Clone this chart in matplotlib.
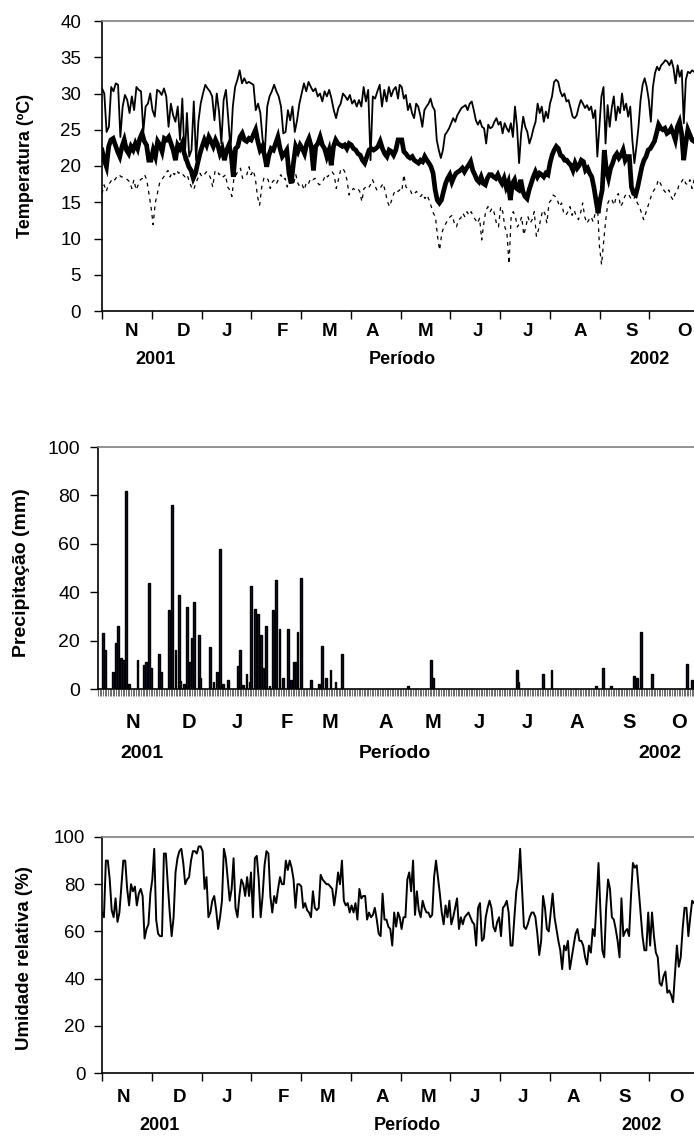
import numpy as np
import matplotlib.pyplot as plt

plt.rcParams['font.family'] = ['Liberation Sans', 'DejaVu Sans']

# ---- data ----
months = ['N', 'D', 'J', 'F', 'M', 'A', 'M', 'J', 'J', 'A', 'S', 'O']

# temperature (ºC), Nov 2001 - Apr 2002 and Apr - Oct 2002
tmax_a = [30.7, 30.0, 24.7, 25.4, 30.9, 30.3, 31.4, 31.2, 24.0, 28.2, 29.8, 29.1, 27.3, 29.6, 27.7, 30.9,
          30.5, 30.3, 24.7, 28.2, 28.6, 30.0, 27.7, 26.8, 30.5, 30.3, 29.8, 30.7, 29.6, 25.4, 28.6, 27.0,
          26.1, 28.2, 23.6, 29.3, 20.8, 27.3, 21.3, 22.2, 28.9, 20.8, 26.1, 28.6, 30.0, 31.2, 30.7, 30.3,
          29.6, 26.3, 30.0, 27.5, 23.1, 29.1, 30.5, 26.6, 22.2, 28.2, 30.9, 31.9, 33.2, 31.4, 32.1, 31.4,
          31.6, 31.4, 31.2, 27.7, 28.6, 27.3, 23.6, 22.2, 28.2, 29.6, 30.3, 31.2, 30.3, 29.6, 28.2, 24.5,
          24.7, 27.7, 26.3, 28.2, 24.7, 26.3, 28.6, 30.0, 31.4, 30.3, 31.6, 30.9, 30.3, 30.7, 29.6, 30.0,
          28.9, 30.3, 29.6, 30.5, 29.3, 27.7, 26.6, 28.0, 28.6, 30.0, 29.6, 29.1, 29.8, 28.6, 29.1, 28.2,
          29.1, 28.2, 30.9, 28.9, 30.5, 20.8, 29.6, 29.3, 30.3, 31.2, 28.2, 30.5, 28.9, 30.9, 29.6, 30.5,
          30.9, 29.3]
tmax_b = [31.2, 30.9, 29.3, 29.8, 27.7, 28.6, 27.3, 26.6, 28.6, 28.2, 27.0, 25.4, 27.7, 28.2, 28.6, 29.3,
          28.2, 27.7, 23.6, 22.2, 21.1, 22.2, 24.3, 24.7, 25.2, 25.9, 26.6, 26.1, 27.0, 27.5, 28.0, 28.2,
          28.4, 27.7, 28.6, 28.9, 27.7, 26.3, 25.7, 26.3, 25.4, 25.2, 23.1, 25.7, 25.2, 25.4, 26.1, 26.6,
          25.7, 26.1, 24.5, 25.9, 25.2, 24.7, 25.9, 24.0, 28.2, 25.4, 20.4, 24.5, 26.8, 25.4, 24.7, 23.1,
          24.0, 25.2, 26.1, 28.6, 27.3, 28.2, 26.1, 27.5, 26.6, 28.6, 29.6, 31.6, 31.9, 31.6, 30.3, 29.6,
          30.0, 28.9, 29.1, 28.0, 26.8, 26.6, 27.0, 28.2, 29.1, 28.6, 28.0, 28.4, 27.7, 28.2, 26.6, 27.7,
          21.3, 25.4, 29.6, 30.9, 23.1, 28.4, 25.4, 28.0, 29.6, 26.3, 28.2, 27.3, 30.0, 27.7, 28.6, 26.8,
          28.2, 23.6, 20.4, 22.7, 25.4, 29.1, 31.2, 32.1, 30.9, 29.1, 26.1, 30.9, 32.8, 33.7, 33.2, 33.9,
          34.2, 34.6, 34.4, 33.9, 34.6, 33.5, 31.4, 33.9, 32.3, 33.2, 25.9, 31.9, 33.0, 32.8, 33.2, 33.0]

tmed_a = [22.2, 20.8, 19.9, 22.7, 23.6, 23.8, 22.9, 22.0, 21.3, 22.7, 23.6, 22.2, 21.7, 22.7, 22.2, 23.1,
          22.4, 23.8, 24.5, 23.4, 22.9, 20.8, 20.8, 22.2, 21.3, 23.4, 22.9, 22.0, 23.8, 23.6, 24.0, 23.1,
          22.2, 20.8, 22.9, 22.4, 23.1, 21.7, 20.8, 19.9, 19.4, 18.3, 19.0, 20.4, 21.7, 22.7, 23.6, 22.9,
          24.0, 23.4, 22.7, 23.6, 22.9, 21.7, 22.4, 20.8, 22.2, 22.9, 21.7, 18.5, 22.4, 22.7, 24.0, 24.5,
          23.6, 23.4, 23.8, 23.6, 24.3, 25.0, 23.4, 22.2, 22.7, 21.5, 19.9, 21.5, 22.4, 22.2, 23.1, 24.0,
          22.4, 21.3, 21.7, 22.2, 19.0, 17.6, 20.4, 22.7, 22.0, 22.9, 22.4, 21.7, 23.1, 23.8, 22.7, 19.4,
          22.7, 23.1, 24.0, 22.9, 22.4, 21.3, 22.2, 20.1, 22.7, 23.6, 23.1, 22.9, 22.7, 22.9, 22.4, 23.1,
          22.9, 22.4, 22.2, 21.7, 21.5, 20.8, 20.4, 21.3, 22.2, 22.4, 22.2, 22.4, 22.7, 23.4, 22.4, 21.7,
          21.3, 22.2, 22.0, 21.5, 22.2, 23.6]
tmed_b = [23.6, 23.6, 22.0, 21.7, 21.3, 21.1, 21.3, 20.8, 20.6, 20.4, 20.8, 20.6, 21.3, 20.8, 20.4, 19.9,
          19.0, 16.7, 15.3, 14.9, 15.3, 16.5, 17.6, 18.3, 18.8, 17.8, 18.5, 19.0, 19.2, 19.4, 19.7, 19.2,
          19.7, 20.1, 20.6, 19.4, 18.8, 18.1, 17.8, 18.5, 17.6, 17.4, 18.3, 18.8, 18.8, 18.5, 18.3, 18.8,
          18.1, 17.6, 18.3, 17.1, 17.8, 15.3, 17.6, 18.1, 16.9, 16.7, 18.1, 16.5, 15.8, 15.5, 16.7, 17.6,
          18.5, 19.2, 18.5, 19.0, 18.8, 18.5, 19.0, 18.8, 20.4, 21.5, 22.2, 22.7, 22.4, 21.5, 21.3, 20.8,
          20.8, 20.4, 20.1, 19.4, 20.4, 19.7, 20.1, 20.8, 20.6, 19.4, 19.7, 19.0, 18.5, 17.1, 15.3, 13.5,
          15.3, 16.7, 22.2, 19.4, 18.3, 19.7, 20.4, 21.3, 21.7, 21.1, 21.5, 22.2, 20.8, 21.3, 21.3, 17.1,
          16.2, 16.0, 17.1, 18.5, 19.9, 20.8, 21.3, 22.2, 22.4, 22.9, 23.4, 24.5, 25.7, 25.2, 25.0, 25.2,
          24.5, 24.7, 25.2, 24.5, 23.6, 25.4, 26.1, 24.5, 20.8, 23.1, 25.0, 24.3, 23.6, 23.4]

tmin_a = [16.2, 17.4, 16.5, 17.4, 17.8, 18.3, 18.1, 18.5, 18.8, 18.5, 18.5, 18.3, 18.1, 17.8, 16.9, 18.1,
          16.7, 17.4, 18.1, 18.3, 18.8, 18.1, 16.2, 14.4, 11.9, 14.9, 16.2, 17.6, 18.1, 18.5, 19.0, 19.4,
          18.5, 19.2, 18.8, 19.4, 19.0, 19.2, 18.8, 18.5, 18.8, 17.8, 17.1, 16.7, 17.6, 18.3, 19.0, 18.5,
          18.8, 19.2, 19.0, 18.3, 17.1, 19.2, 19.4, 18.8, 19.0, 18.5, 18.8, 17.1, 16.7, 15.8, 18.5, 18.8,
          19.4, 19.7, 18.3, 18.5, 18.8, 19.9, 18.8, 19.4, 18.3, 15.8, 14.6, 17.1, 18.3, 18.5, 18.1, 16.9,
          17.8, 18.1, 17.6, 18.3, 18.8, 18.1, 18.3, 17.1, 18.1, 17.8, 17.6, 18.8, 17.6, 17.1, 17.4, 16.7,
          17.8, 17.6, 18.3, 18.1, 18.3, 17.8, 17.4, 17.6, 18.1, 18.8, 18.5, 19.0, 19.2, 18.8, 16.9, 18.1,
          19.4, 19.7, 19.2, 18.1, 16.0, 16.5, 16.9, 16.7, 16.9, 16.5, 15.1, 16.9, 17.1, 16.9, 17.4, 18.1,
          17.4, 16.7, 17.1, 17.1, 17.6, 16.5, 15.1, 14.4, 15.3, 16.2, 16.7, 16.5]
tmin_b = [16.7, 16.5, 18.8, 17.1, 16.9, 16.7, 16.0, 16.2, 16.5, 16.0, 15.8, 16.2, 15.5, 16.0, 15.3, 14.4,
          13.5, 13.0, 10.3, 8.4, 10.7, 11.6, 12.1, 12.6, 13.0, 13.2, 12.1, 11.6, 12.6, 12.8, 13.5, 13.0,
          13.7, 13.2, 13.7, 13.0, 12.6, 12.1, 12.8, 9.8, 12.1, 13.9, 14.4, 13.7, 14.2, 13.5, 12.1, 11.6,
          14.4, 13.7, 11.6, 10.7, 6.5, 13.0, 13.7, 13.0, 11.6, 12.1, 13.0, 10.5, 11.6, 13.0, 12.1, 12.6,
          13.7, 10.3, 11.2, 12.6, 13.9, 13.5, 12.1, 14.9, 15.3, 16.0, 15.8, 15.3, 14.4, 14.9, 13.5, 13.2,
          13.7, 14.4, 13.2, 13.9, 13.0, 12.6, 13.5, 14.9, 13.0, 12.1, 12.6, 13.0, 12.3, 13.5, 14.9, 8.9,
          6.4, 9.6, 12.6, 14.9, 15.5, 15.3, 14.6, 15.8, 16.2, 14.4, 14.9, 15.8, 16.2, 16.0, 15.5, 15.3,
          15.8, 14.9, 14.4, 13.5, 12.6, 13.5, 14.4, 15.3, 16.2, 16.7, 17.1, 18.1, 17.6, 16.9, 16.5, 16.2,
          16.7, 15.8, 15.3, 16.2, 16.5, 17.6, 17.8, 18.3, 17.6, 17.4, 18.1, 16.9, 18.1]

# precipitation (mm): day of period and amount, all other days are 0
rain_day = [3, 4, 9, 11, 12, 14, 15, 17, 19, 24, 28, 29, 31, 32, 37, 38, 43, 45, 47, 49,
            50, 52, 54, 56, 57, 58, 61, 62, 68, 70, 72, 74, 76, 79, 85, 86, 88, 90, 92, 93,
            95, 97, 99, 100, 102, 104, 106, 108, 110, 112, 115, 117, 119, 120, 121, 123, 129, 134, 136, 138,
            141, 144, 148, 188, 202, 203, 254, 255, 270, 275, 302, 306, 311, 325, 327, 329, 336, 357, 360]
rain_mm = [23, 16, 7, 19, 26, 13, 12, 82, 2, 12, 10, 11, 44, 8.5, 14.5, 7, 32.5, 76, 16, 39,
           3.5, 2, 34, 11, 21, 36, 22.5, 4.5, 17.5, 3, 7, 58, 2, 3.9, 9.5, 16, 1.5, 6, 2.7, 42.5,
           33, 31, 22.5, 8.5, 26, 1.4, 32.5, 45, 25, 4.5, 25, 3.7, 11, 11, 23.5, 45.8, 3.7, 2, 17.6, 4.5,
           7.8, 2.9, 14.4, 1.4, 12.1, 4.7, 7.9, 2.8, 6.2, 7.9, 1.4, 8.7, 1.4, 5.4, 4.5, 23.6, 6.2, 10.3, 3.7]

# relative humidity (%)
rh_a = [68, 66, 90, 90, 82, 69, 66, 74, 64, 68, 79, 90, 90, 78, 71, 80, 77, 79, 71, 76,
        78, 75, 57, 61, 63, 76, 82, 95, 65, 59, 58, 58, 93, 93, 80, 68, 58, 66, 85, 91,
        94, 95, 89, 80, 82, 83, 90, 94, 94, 93, 96, 96, 94, 78, 83, 66, 68, 73, 75, 69,
        61, 66, 73, 95, 91, 82, 73, 78, 91, 70, 66, 75, 82, 80, 75, 83, 75, 85, 66, 91,
        92, 82, 66, 75, 88, 94, 93, 75, 68, 75, 72, 78, 83, 80, 80, 90, 86, 90, 87, 82,
        70, 80, 80, 79, 70, 72, 69, 68, 66, 77, 70, 69, 70, 84, 82, 81, 80, 80, 79, 78,
        71, 77, 85, 80, 90, 73, 71, 72, 68, 71, 68, 72, 65, 78, 74, 75, 75, 65, 68, 66,
        67, 70, 65, 59, 58, 76, 65, 65, 62, 61, 54, 68, 62, 68]
rh_b = [66, 61, 66, 66, 82, 85, 77, 90, 67, 77, 69, 66, 73, 70, 68, 68, 66, 67, 83, 90,
        83, 76, 68, 63, 71, 66, 73, 63, 66, 70, 74, 61, 66, 63, 66, 67, 68, 66, 64, 63,
        54, 70, 72, 56, 57, 66, 70, 73, 70, 62, 60, 64, 66, 58, 70, 71, 73, 68, 54, 54,
        66, 77, 82, 95, 78, 62, 61, 63, 66, 68, 68, 66, 59, 50, 56, 75, 70, 61, 60, 68,
        76, 66, 61, 56, 52, 44, 54, 52, 56, 44, 49, 54, 59, 61, 56, 56, 54, 49, 46, 54,
        51, 61, 58, 73, 89, 69, 52, 49, 70, 82, 78, 66, 65, 61, 56, 49, 74, 58, 60, 61,
        58, 75, 89, 87, 88, 78, 68, 58, 52, 52, 68, 54, 68, 58, 51, 49, 38, 37, 41, 43,
        34, 35, 33, 30, 42, 54, 45, 49, 61, 70, 70, 58, 66, 73, 72]

W, H = 694, 1137
fig = plt.figure(figsize=(W / 100, H / 100), dpi=100)


def box(l, t, r, b):
    return [l / W, 1 - b / H, (r - l) / W, (b - t) / H]


def px(x, y):
    return x / W, 1 - y / H


def frame(ax):
    ax.spines['right'].set_visible(False)
    ax.spines['top'].set_color('#7f7f7f')
    ax.spines['top'].set_linewidth(1.2)
    ax.spines['left'].set_linewidth(1.2)
    ax.spines['bottom'].set_linewidth(1.2)


def xlabels(month_x, month_y, year_y, x2001, xper, x2002, size):
    for m, x in zip(months, month_x):
        fig.text(*px(x, month_y), m, ha='center', va='center', fontsize=size, fontweight='bold')
    fig.text(*px(x2001, year_y), '2001', ha='center', va='center', fontsize=size - 0.5, fontweight='bold')
    fig.text(*px(xper, year_y), 'Período', ha='center', va='center', fontsize=size - 0.5, fontweight='bold')
    fig.text(*px(x2002, year_y), '2002', ha='center', va='center', fontsize=size - 0.5, fontweight='bold')


month_edges = np.arange(0, 13) * 365 / 12

# ---- panel 1: temperature ----
ax1 = fig.add_axes(box(102, 21, 699, 311))
frame(ax1)
d_a = np.linspace(0, 181, len(tmax_a))
d_b = np.linspace(182, 362, len(tmax_b))
ax1.plot(np.r_[d_a, d_b], tmax_a + tmax_b, color='black', lw=1.3)
d_a = np.linspace(0, 181, len(tmed_a))
d_b = np.linspace(182, 362, len(tmed_b))
ax1.plot(np.r_[d_a, d_b], tmed_a + tmed_b, color='black', lw=3.4, solid_joinstyle='miter')
d_a = np.linspace(0, 181, len(tmin_a))
d_b = np.linspace(182, 362, len(tmin_b))
ax1.plot(np.r_[d_a, d_b], tmin_a + tmin_b, color='black', lw=0.9, ls=(0, (3, 3.5)))
ax1.set_xlim(0, 365)
ax1.set_ylim(0, 40)
ax1.set_yticks(np.arange(0, 41, 5))
ax1.set_xticks(month_edges[:-1])
ax1.set_xticklabels([])
ax1.tick_params(axis='y', labelsize=13.5, length=6, width=1, pad=9)
ax1.tick_params(axis='x', length=6, width=1)
fig.text(*px(26, 166), 'Temperatura (ºC)', rotation=90, ha='center', va='center',
         fontsize=13, fontweight='bold')
xlabels([132, 184, 227, 282, 330, 372, 426, 478, 528, 580, 632, 685], 332, 360, 155, 402, 650, 13.5)

# ---- panel 2: precipitation ----
ax2 = fig.add_axes(box(98, 447, 700, 689))
frame(ax2)
ax2.bar(rain_day, rain_mm, width=1.1, color='#141430', edgecolor='black', linewidth=1.0)
ax2.set_xlim(0, 365)
ax2.set_ylim(0, 100)
ax2.set_yticks(np.arange(0, 101, 20))
ax2.set_xticks([])
ax2.set_xticks(np.arange(0, 366, 1), minor=True)
ax2.tick_params(axis='x', which='minor', length=5, width=0.6, color='#555555')
ax2.tick_params(axis='y', labelsize=14, length=6, width=1, pad=7)
fig.text(*px(22, 573), 'Precipitação (mm)', rotation=90, ha='center', va='center',
         fontsize=14, fontweight='bold')
xlabels([133, 189, 237, 287, 330, 386, 433, 479, 527, 577, 629, 679], 723, 753, 142, 395, 660, 14.5)

# ---- panel 3: relative humidity ----
ax3 = fig.add_axes(box(102, 837, 699, 1073))
frame(ax3)
d_a = np.linspace(0, 181, len(rh_a))
d_b = np.linspace(182, 362, len(rh_b))
ax3.plot(np.r_[d_a, d_b], rh_a + rh_b, color='black', lw=1.4)
ax3.set_xlim(0, 365)
ax3.set_ylim(0, 100)
ax3.set_yticks(np.arange(0, 101, 20))
ax3.set_xticks(month_edges[:-1])
ax3.set_xticklabels([])
ax3.tick_params(axis='y', labelsize=13.5, length=6, width=1, pad=6)
ax3.tick_params(axis='x', length=6, width=1)
fig.text(*px(25, 958), 'Umidade relativa (%)', rotation=90, ha='center', va='center',
         fontsize=13.5, fontweight='bold')
xlabels([123, 180, 227, 283, 328, 382, 429, 475, 523, 573, 625, 677], 1097, 1125, 159, 407, 642, 13.5)

plt.savefig('out.png', dpi=100)
